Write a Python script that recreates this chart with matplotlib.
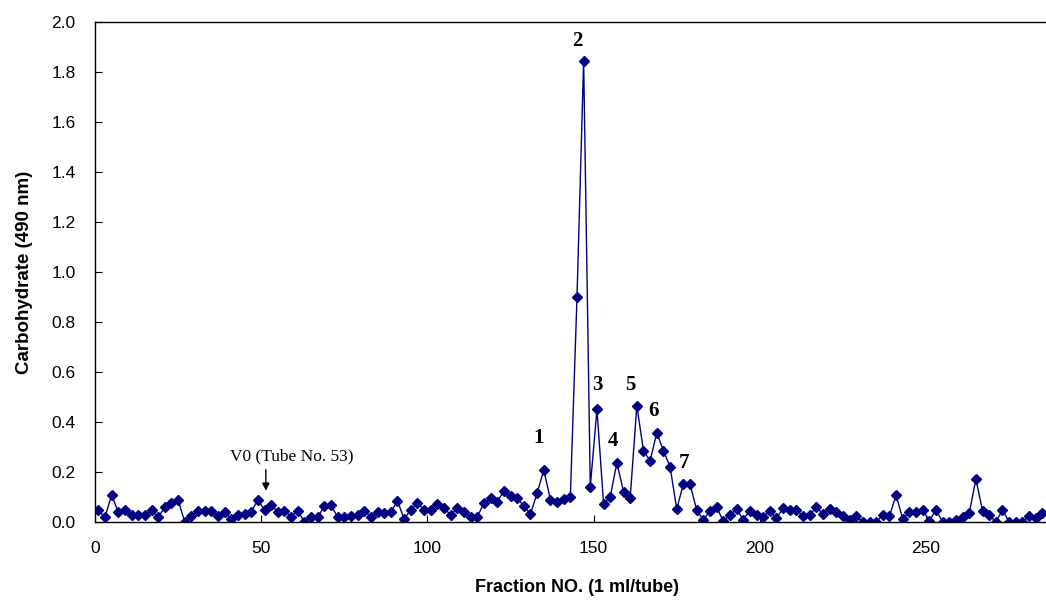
import numpy as np
import matplotlib
matplotlib.use("Agg")
import matplotlib.pyplot as plt

# tube numbers (every second fraction collected) and absorbance at 490 nm
fractions = list(range(1, 286, 2))
carbohydrate = [
    0.048, 0.019, 0.108, 0.040, 0.048, 0.028, 0.028, 0.030, 0.048, 0.019,
    0.059, 0.075, 0.088, 0.000, 0.024, 0.045, 0.043, 0.043, 0.024, 0.040,
    0.011, 0.029, 0.032, 0.041, 0.088, 0.048, 0.068, 0.040, 0.045, 0.021,
    0.045, 0.000, 0.021, 0.019, 0.064, 0.068, 0.019, 0.019, 0.024, 0.028,
    0.045, 0.019, 0.041, 0.035, 0.040, 0.084, 0.012, 0.048, 0.077, 0.048,
    0.048, 0.071, 0.055, 0.028, 0.055, 0.040, 0.019, 0.021, 0.075, 0.095,
    0.081, 0.124, 0.104, 0.095, 0.064, 0.032, 0.115, 0.208, 0.090, 0.082,
    0.092, 0.101, 0.901, 1.844, 0.141, 0.451, 0.072, 0.101, 0.237, 0.121,
    0.097, 0.465, 0.285, 0.245, 0.357, 0.285, 0.221, 0.052, 0.152, 0.152,
    0.048, 0.008, 0.044, 0.059, 0.004, 0.028, 0.052, 0.010, 0.046, 0.028,
    0.019, 0.045, 0.015, 0.055, 0.048, 0.048, 0.024, 0.028, 0.059, 0.032,
    0.051, 0.040, 0.024, 0.008, 0.024, 0.001, 0.001, 0.001, 0.028, 0.024,
    0.108, 0.011, 0.040, 0.040, 0.048, 0.005, 0.048, 0.000, 0.001, 0.008,
    0.019, 0.035, 0.172, 0.045, 0.028, 0.000, 0.048, 0.001, 0.001, 0.001,
    0.024, 0.015, 0.035,
]

# peak labels: text, x, y (centre of label)
peak_names = ["1", "2", "3", "4", "5", "6", "7"]
peak_x = [133.4, 145.2, 151.2, 155.7, 161.1, 168.0, 177.1]
peak_y = [0.336, 1.924, 0.550, 0.322, 0.550, 0.443, 0.235]

x_ticks = [0, 50, 100, 150, 200, 250]
y_ticks = [0.0, 0.2, 0.4, 0.6, 0.8, 1.0, 1.2, 1.4, 1.6, 1.8, 2.0]

sans = "Liberation Sans"
serif = "Liberation Serif"
navy = "#000080"

fig = plt.figure(figsize=(10.46, 6.03), dpi=100)
ax = fig.add_axes([95 / 1046, 81 / 603, 964 / 1046, 500 / 603])

ax.plot(fractions, carbohydrate, color=navy, lw=1.0, marker="D",
        markersize=5, markerfacecolor=navy, markeredgecolor=navy)

ax.set_xlim(0, 290)
ax.set_ylim(0, 2.0)
ax.set_xticks(x_ticks)
ax.set_yticks(y_ticks)
ax.set_yticklabels(["%.1f" % v for v in y_ticks])
ax.tick_params(direction="in", length=5, width=0.8, pad=14, labelsize=12.5)
for lab in ax.get_xticklabels() + ax.get_yticklabels():
    lab.set_fontfamily(sans)
for s in ax.spines.values():
    s.set_linewidth(1.0)

ax.set_xlabel("Fraction NO. (1 ml/tube)", fontfamily=sans, fontsize=13,
              fontweight="bold", labelpad=16)
ax.set_ylabel("Carbohydrate (490 nm)", fontfamily=sans, fontsize=13.5,
              fontweight="bold", labelpad=13)

for name, px, py in zip(peak_names, peak_x, peak_y):
    ax.text(px, py, name, fontfamily=serif, fontsize=15, fontweight="bold",
            ha="center", va="center")

# void volume marker
ax.text(59.3, 0.262, "V0 (Tube No. 53)", fontfamily=serif, fontsize=12.5,
        ha="center", va="center")
ax.annotate("", xy=(51.4, 0.125), xytext=(51.4, 0.21),
            arrowprops=dict(arrowstyle="-|>", color="black", lw=1.0,
                            mutation_scale=11, shrinkA=0, shrinkB=0))

fig.savefig("out.png", dpi=100)
